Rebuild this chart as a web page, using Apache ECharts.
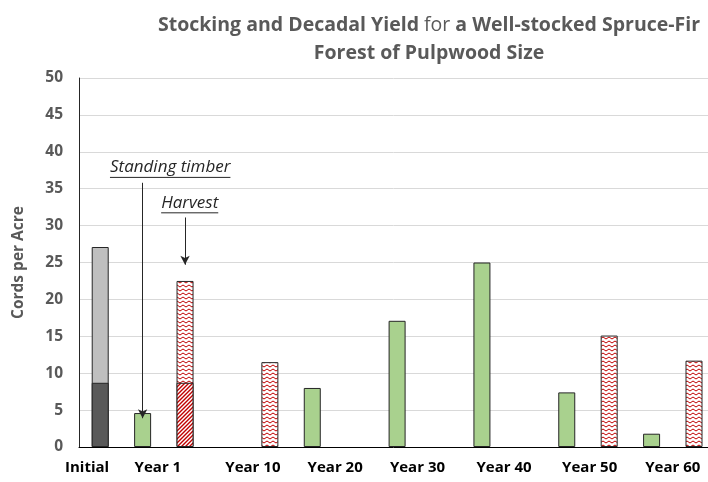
<!DOCTYPE html>
<html>
<head>
<meta charset="utf-8">
<script src="https://cdn.jsdelivr.net/npm/echarts@6/dist/echarts.min.js"></script>
<style>
html, body { margin: 0; padding: 0; background: #fff; }
#chart { width: 708px; height: 482px; }
</style>
</head>
<body>
<div id="chart"></div>
<script>
// x axis is measured in bar slots, one slot per bar
const categories = ['Initial', 'Year 1', 'Year 10', 'Year 20', 'Year 30', 'Year 40', 'Year 50', 'Year 60']
const labelSlots = [-0.31, 1.36, 3.6, 5.54, 7.48, 9.52, 11.54, 13.5]

// initial stocking: total and the part of it that gets cut
const initialSlot = [0]
const initialTotal = [27.1]
const initialCut = [8.7]

// standing timber (green)
const standingSlots = [1, 5, 7, 9, 11, 13]
const standingValues = [4.6, 8.0, 17.1, 25.0, 7.4, 1.8]

// harvest (hatched red), year 1 has a cut part at the bottom
const harvestSlots = [2, 4, 12, 14]
const harvestValues = [22.5, 11.5, 15.1, 11.7]
const cutSlots = [2]
const cutValues = [8.7]

// annotations [text, slot, value] and arrows [slot, from, to]
const notes = [['Standing timber', 1.65, 36.6], ['Harvest', 2.11, 31.8]]
const arrows = [[1, 35.8, 3.9], [2, 31.1, 24.7]]

const yTicks = [0, 50, 5]

const FONT = 'Open Sans'

function pair(xs, ys) {
  return xs.map((x, i) => [x, ys[i]])
}

function makePattern(kind) {
  const c = document.createElement('canvas')
  const ctx = c.getContext('2d')
  if (kind === 'zigzag') {
    c.width = 6; c.height = 4
    ctx.fillStyle = '#fff'
    ctx.fillRect(0, 0, 6, 4)
    ctx.strokeStyle = '#c00000'
    ctx.lineWidth = 1
    ctx.beginPath()
    ctx.moveTo(0, 3); ctx.lineTo(3, 1); ctx.lineTo(6, 3)
    ctx.stroke()
  } else {
    c.width = 4; c.height = 4
    ctx.fillStyle = '#fff'
    ctx.fillRect(0, 0, 4, 4)
    ctx.strokeStyle = '#c00000'
    ctx.lineWidth = 1.4
    ctx.beginPath()
    ctx.moveTo(0, 4); ctx.lineTo(4, 0)
    ctx.moveTo(-1, 1); ctx.lineTo(1, -1)
    ctx.moveTo(3, 5); ctx.lineTo(5, 3)
    ctx.stroke()
  }
  return { image: c, repeat: 'repeat' }
}

const border = { borderColor: '#262626', borderWidth: 1 }
const barBase = { type: 'bar', barWidth: 17, barGap: '-100%', animation: false, silent: true }

function arrowLine(a) {
  return [
    { coord: [a[0], a[1]], symbol: 'none' },
    { coord: [a[0], a[2]], symbol: 'arrow' }
  ]
}

const markArrow = (list) => ({
  silent: true,
  animation: false,
  symbolSize: [7, 9],
  label: { show: false },
  lineStyle: { color: '#262626', width: 1, type: 'solid' },
  emphasis: { disabled: true },
  data: list.map(arrowLine)
})

const option = {
  animation: false,
  title: {
    left: 424,
    top: 6,
    textAlign: 'center',
    text: '{b|Stocking and Decadal Yield} {n|for} {b|a Well-stocked Spruce-Fir}\n{b|Forest of Pulpwood Size}',
    textStyle: {
      rich: {
        b: { fontFamily: FONT, fontWeight: 'bold', fontSize: 19.5, color: '#595959', lineHeight: 28 },
        n: { fontFamily: FONT, fontWeight: 'normal', fontSize: 19.5, color: '#595959', lineHeight: 28 }
      }
    }
  },
  grid: { left: 79, right: 0, top: 78, bottom: 35, containLabel: false },
  xAxis: {
    type: 'value',
    min: -0.5,
    max: 14.33,
    splitLine: { show: false },
    axisTick: { show: false },
    axisLine: { show: true, lineStyle: { color: '#000', width: 1 } },
    axisLabel: {
      customValues: labelSlots,
      formatter: (v) => categories[labelSlots.indexOf(v)] || '',
      fontFamily: FONT,
      fontWeight: 'bold',
      fontSize: 15,
      color: '#000',
      margin: 13,
      showMinLabel: true,
      showMaxLabel: true
    }
  },
  yAxis: {
    type: 'value',
    min: yTicks[0],
    max: yTicks[1],
    interval: yTicks[2],
    name: 'Cords per Acre',
    nameLocation: 'middle',
    nameGap: 52,
    nameTextStyle: { fontFamily: FONT, fontWeight: 'bold', fontSize: 15.5, color: '#595959' },
    axisLine: { show: true, onZero: false, lineStyle: { color: '#262626', width: 1 } },
    axisTick: { show: false },
    splitLine: { lineStyle: { color: '#d9d9d9', width: 1 } },
    axisLabel: { fontFamily: FONT, fontWeight: 'bold', fontSize: 15.5, color: '#595959', margin: 16 }
  },
  series: [
    Object.assign({}, barBase, {
      name: 'Initial',
      data: pair(initialSlot, initialTotal),
      itemStyle: Object.assign({ color: '#bfbfbf' }, border)
    }),
    Object.assign({}, barBase, {
      name: 'Initial cut',
      data: pair(initialSlot, initialCut),
      itemStyle: Object.assign({ color: '#595959' }, border)
    }),
    Object.assign({}, barBase, {
      name: 'Standing timber',
      data: pair(standingSlots, standingValues),
      itemStyle: Object.assign({ color: '#a9d18e' }, border),
      markLine: markArrow(arrows.slice(0, 1))
    }),
    Object.assign({}, barBase, {
      name: 'Harvest',
      data: pair(harvestSlots, harvestValues),
      itemStyle: Object.assign({ color: makePattern('zigzag') }, border),
      markLine: markArrow(arrows.slice(1))
    }),
    Object.assign({}, barBase, {
      name: 'Harvest cut',
      data: pair(cutSlots, cutValues),
      itemStyle: Object.assign({ color: makePattern('diag') }, border)
    })
  ]
}

const chart = echarts.init(document.getElementById('chart'))
chart.setOption(option)

// underlined italic notes above the arrows
const noteFont = 'italic 17px ' + FONT
const ctx = document.createElement('canvas').getContext('2d')
ctx.font = noteFont
const graphic = []
notes.forEach(n => {
  const p = chart.convertToPixel({ gridIndex: 0 }, [n[1], n[2]])
  const w = ctx.measureText(n[0]).width
  graphic.push({
    type: 'text',
    x: p[0], y: p[1] - 1,
    silent: true,
    style: { text: n[0], font: noteFont, fill: '#262626', align: 'center', verticalAlign: 'bottom' }
  })
  graphic.push({
    type: 'line',
    silent: true,
    shape: { x1: p[0] - w / 2, y1: p[1] + 0.5, x2: p[0] + w / 2, y2: p[1] + 0.5 },
    style: { stroke: '#262626', lineWidth: 1 }
  })
})
chart.setOption({ graphic: graphic })
</script>
</body>
</html>
